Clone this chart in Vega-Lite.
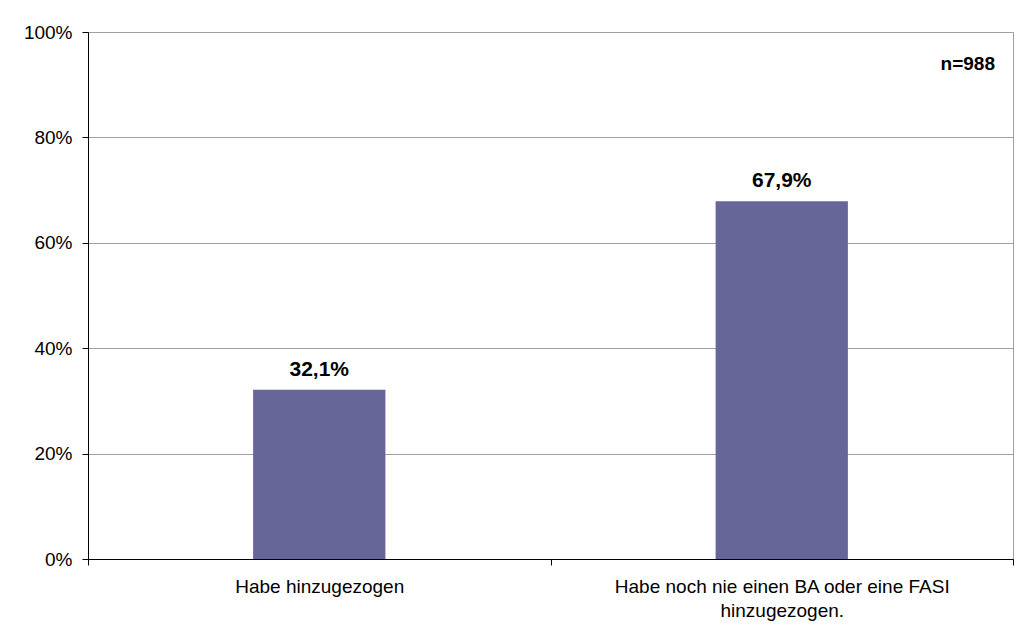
{
  "$schema": "https://vega.github.io/schema/vega-lite/v6.json",
  "width": 925,
  "height": 527,
  "autosize": "none",
  "padding": {"left": 88, "top": 32, "right": 3, "bottom": 75},
  "background": "white",
  "config": {
    "locale": {"number": {"decimal": ",", "thousands": ".", "grouping": [3], "currency": ["", " €"]}},
    "view": {"stroke": "#a0a0a0", "strokeWidth": 1},
    "font": "Liberation Sans"
  },
  "title": {
    "text": "n=988",
    "anchor": "end",
    "frame": "group",
    "orient": "top",
    "offset": -66,
    "dx": -18,
    "baseline": "alphabetic",
    "fontSize": 19,
    "fontWeight": "bold",
    "color": "black",
    "font": "Liberation Sans"
  },
  "data": {
    "values": [
      {"kategorie": "Habe hinzugezogen", "anteil": 0.321},
      {"kategorie": "Habe noch nie einen BA oder eine FASI hinzugezogen.", "anteil": 0.679}
    ]
  },
  "encoding": {
    "x": {
      "field": "kategorie",
      "type": "nominal",
      "sort": null,
      "title": null,
      "scale": {"paddingInner": 0, "paddingOuter": 0},
      "axis": {
        "labelAngle": 0,
        "tickBand": "extent",
        "tickSize": 6,
        "tickColor": "black",
        "domainColor": "black",
        "labelColor": "black",
        "labelFontSize": 19,
        "labelPadding": 12,
        "labelLineHeight": 24,
        "labelLimit": 0,
        "labelBaseline": "top",
        "labelExpr": "datum.label == 'Habe noch nie einen BA oder eine FASI hinzugezogen.' ? ['Habe noch nie einen BA oder eine FASI', 'hinzugezogen.'] : datum.label"
      }
    },
    "y": {
      "field": "anteil",
      "type": "quantitative",
      "title": null,
      "scale": {"domain": [0, 1], "nice": false},
      "axis": {
        "values": [0, 0.2, 0.4, 0.6, 0.8, 1],
        "format": ".0%",
        "tickSize": 6,
        "tickColor": "black",
        "domainColor": "black",
        "gridColor": "#a0a0a0",
        "labelColor": "black",
        "labelFontSize": 19,
        "labelPadding": 10
      }
    }
  },
  "layer": [
    {"mark": {"type": "bar", "color": "#666699", "width": {"band": 0.286}}},
    {
      "mark": {"type": "text", "fontWeight": "bold", "fontSize": 21, "dy": -14, "baseline": "alphabetic", "color": "black"},
      "encoding": {"text": {"field": "anteil", "type": "quantitative", "format": ".1%"}}
    }
  ]
}
